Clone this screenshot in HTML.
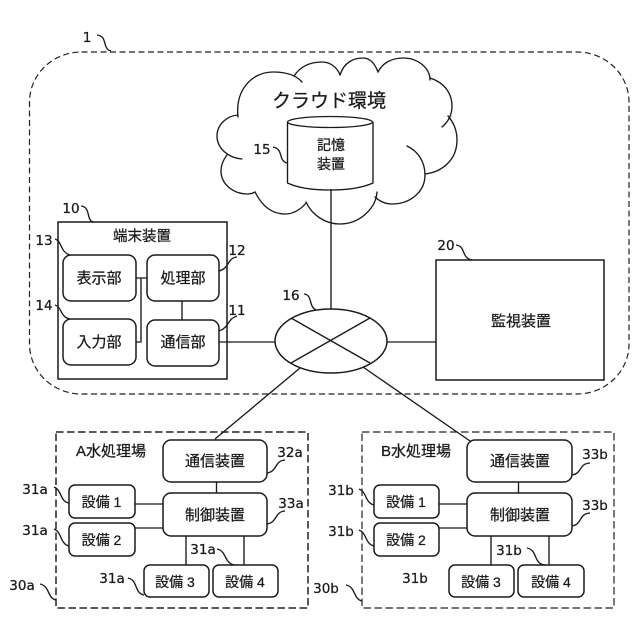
<!DOCTYPE html>
<html><head><meta charset="utf-8">
<style>
html,body{margin:0;padding:0;background:#fff;width:640px;height:640px;overflow:hidden}
svg{display:block}
text{fill:#1a1a1a;stroke:#1a1a1a;stroke-width:.25;font-family:"Liberation Sans","Noto Sans CJK JP",sans-serif;text-anchor:middle}
.n text{font-family:"DejaVu Sans",sans-serif;font-size:13.5px}
.b{font-size:15px}
.s{font-size:14px}
.l{fill:none;stroke:#1a1a1a;stroke-width:1.35}
.k{fill:#fff;stroke:#1a1a1a;stroke-width:1.5}
</style></head><body>
<svg width="640" height="640" viewBox="0 0 640 640" xmlns="http://www.w3.org/2000/svg">
<rect x="29.5" y="52" width="599.5" height="342" rx="52" ry="50" fill="none" stroke="#222" stroke-width="1.2" stroke-dasharray="6 3.5"/>

<!-- cloud -->
<g class="l" stroke-linecap="round">
<path d="M238,117 C235,90 252,72 273,72 C285,72 296,75 302,82"/>
<path d="M294,76 C302,64 314,62 322,62 C330,62 337,67 340,75"/>
<path d="M340,75 C344,62 354,58 363,58 C370,58 375,64 378,72"/>
<path d="M378,72 C383,62 393,58 403,58 C418,58 430,68 430,80"/>
<path d="M430,78 C446,83 452,95 452,106 C452,115 448,122 442,127"/>
<path d="M448,116 C455,124 457,132 457,140 C457,160 442,172 425,174"/>
<path d="M407,146 C418,151 425,162 425,175 C425,192 410,204 392,204 C384,204 378,200 375,197"/>
<path d="M377,192 C376,208 360,224 340,224 C325,224 312,215 306,202"/>
<path d="M255,192 C262,206 272,214 285,214 C294,214 301,209 306,203"/>
<path d="M238,115 C226,116 217,125 217,136 C217,148 228,158 242,159"/>
<path d="M227,155 C223,160 221,165 221,171 C221,184 233,194 248,194 C251,194 253,193 255,192"/>
</g>

<!-- cylinder -->
<path class="l" d="M287.5,122 V183 C298,188 312,190 330,190 C348,190 362,188 373,183 V122"/>
<ellipse class="l" cx="330" cy="122" rx="42.5" ry="5.5"/>
<line class="l" x1="331" y1="189" x2="331" y2="309"/>

<!-- terminal -->
<rect class="k" x="58" y="222" width="169" height="157"/>
<path class="l" d="M136,278 H147 M141,278 V342 H136 M182,301 V320"/>
<line class="l" x1="219" y1="342" x2="275" y2="342"/>
<rect class="k" x="63" y="255" width="73" height="46" rx="8"/>
<rect class="k" x="147" y="255" width="72" height="46" rx="8"/>
<rect class="k" x="63" y="319" width="73" height="46" rx="8"/>
<rect class="k" x="147" y="320" width="72" height="46" rx="8"/>

<!-- hub -->
<ellipse class="k" cx="331" cy="341" rx="56" ry="32"/>
<path class="l" d="M291,318 L370,363 M370,318 L291,363"/>
<line class="l" x1="387" y1="342" x2="436" y2="342"/>
<line class="l" x1="300" y1="368" x2="215" y2="439"/>
<line class="l" x1="363" y1="367" x2="470" y2="441"/>

<!-- monitor -->
<rect class="k" x="436" y="260" width="168" height="120"/>

<!-- A -->
<rect x="56" y="432" width="252" height="176" fill="none" stroke="#222" stroke-width="1.5" stroke-dasharray="7.5 3.5"/>
<g id="siteA">
<path class="l" d="M216.5,482 V493 M135,504 H163 M135,528 H163 M186,536 V565 M244,536 V565"/>
<rect class="k" x="163" y="440" width="104" height="42" rx="8"/>
<rect class="k" x="163" y="493" width="104" height="43" rx="8"/>
<rect class="k" x="69" y="485" width="66" height="33" rx="6"/>
<rect class="k" x="69" y="523" width="66" height="33" rx="6"/>
<rect class="k" x="144" y="565" width="65" height="32" rx="6"/>
<rect class="k" x="213" y="565" width="65" height="32" rx="6"/>
</g>

<!-- B -->
<rect x="362" y="432" width="252" height="176" fill="none" stroke="#222" stroke-width="1.2" stroke-dasharray="7.5 3.5"/>
<g>
<path class="l" d="M518.5,482 V493 M439,504 H467 M439,528 H467 M491,536 V565 M549,536 V565"/>
<rect class="k" x="467" y="440" width="105" height="42" rx="8"/>
<rect class="k" x="467" y="493" width="105" height="43" rx="8"/>
<rect class="k" x="374" y="485" width="65" height="33" rx="6"/>
<rect class="k" x="374" y="523" width="65" height="33" rx="6"/>
<rect class="k" x="449" y="565" width="65" height="32" rx="6"/>
<rect class="k" x="518" y="565" width="66" height="32" rx="6"/>
</g>

<!-- leaders -->
<g class="l">
<path d="M97,35 C108,36 102,49 111,51"/>
<path d="M81,206 C91,207 86,220 93,222"/>
<path d="M55,239 C62,241 60,252 70,255"/>
<path d="M55,305 C62,307 60,317 70,319"/>
<path d="M219,271 C230,268 227,258 237,257"/>
<path d="M219,331 C230,327 227,319 237,316"/>
<path d="M304,294 C313,295 308,306 316,310"/>
<path d="M273,147 C284,149 278,161 287,163"/>
<path d="M456,245 C466,246 461,258 472,260"/>
<path d="M40,584 C50,586 47,598 56,600"/>
<path d="M54,487 C62,490 60,502 69,503"/>
<path d="M54,529 C62,532 60,544 69,546"/>
<path d="M128,578 C138,580 134,593 144,595"/>
<path d="M217,549 C227,551 224,564 235,565"/>
<path d="M267,473 C278,471 274,461 285,460"/>
<path d="M267,524 C278,522 274,512 285,511"/>
<path d="M346,585 C356,587 353,599 362,601"/>
<path d="M359,489 C367,492 365,503 374,505"/>
<path d="M359,530 C367,533 365,544 374,546"/>
<path d="M527,548 C538,550 533,564 545,565"/>
<path d="M572,475 C583,473 578,464 590,463"/>
<path d="M572,526 C583,524 578,514 590,513"/>
</g>

<!-- main labels -->
<text x="329" y="107" style="font-size:19px">クラウド環境</text>
<text x="331" y="150" class="s">記憶</text>
<text x="331" y="169" class="s">装置</text>
<text x="142" y="241" style="font-size:14.500px">端末装置</text>
<text x="99" y="283" class="b">表示部</text>
<text x="183" y="283" class="b">処理部</text>
<text x="99" y="347" class="b">入力部</text>
<text x="183" y="347" class="b">通信部</text>
<text x="521" y="326" class="b">監視装置</text>

<text x="111" y="456" style="font-size:15px">A水処理場</text>
<text x="215" y="466" class="b">通信装置</text>
<text x="215" y="520" class="b">制御装置</text>
<text x="101.500" y="507" class="s">設備 1</text>
<text x="101.500" y="545" class="s">設備 2</text>
<text x="175" y="587" class="s">設備 3</text>
<text x="245" y="587" class="s">設備 4</text>

<text x="416" y="456" style="font-size:15px">B水処理場</text>
<text x="520" y="466" class="b">通信装置</text>
<text x="520" y="520" class="b">制御装置</text>
<text x="406" y="507" class="s">設備 1</text>
<text x="406" y="545" class="s">設備 2</text>
<text x="481" y="587" class="s">設備 3</text>
<text x="551" y="587" class="s">設備 4</text>

<!-- numerals -->
<g class="n">
<text x="87" y="42">1</text>
<text x="71" y="213">10</text>
<text x="44" y="245">13</text>
<text x="44" y="310">14</text>
<text x="237" y="255">12</text>
<text x="237" y="315">11</text>
<text x="291" y="300">16</text>
<text x="262" y="154">15</text>
<text x="446" y="250">20</text>
<text x="22" y="590">30a</text>
<text x="35" y="494">31a</text>
<text x="35" y="535">31a</text>
<text x="112" y="583">31a</text>
<text x="203" y="554">31a</text>
<text x="290" y="457">32a</text>
<text x="291" y="508">33a</text>
<text x="326" y="593">30b</text>
<text x="341" y="495">31b</text>
<text x="341" y="536">31b</text>
<text x="415" y="583">31b</text>
<text x="509" y="555">31b</text>
<text x="595" y="459">33b</text>
<text x="595" y="510">33b</text>
</g>
</svg>
</body></html>
